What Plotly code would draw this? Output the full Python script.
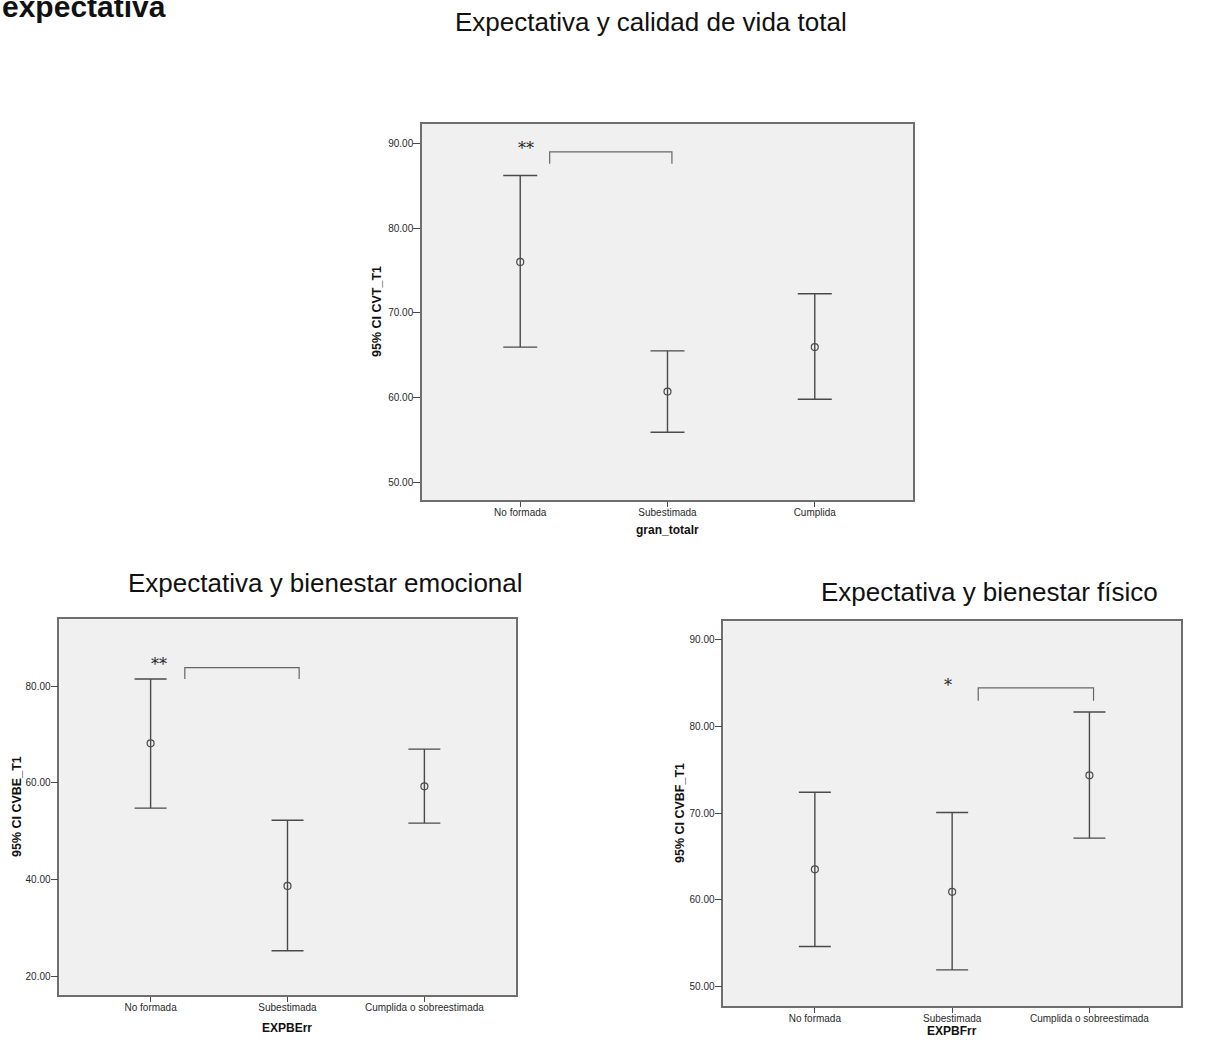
import plotly.graph_objects as go

# ---------------- data ----------------
cats_total = ["No formada", "Subestimada", "Cumplida"]
cvt_mean = [76.0, 60.7, 65.95]
cvt_upper = [86.2, 65.5, 72.25]
cvt_lower = [65.95, 55.9, 59.8]

cats_be = ["No formada", "Subestimada", "Cumplida o sobreestimada"]
cvbe_mean = [68.2, 38.7, 59.3]
cvbe_upper = [81.5, 52.3, 67.0]
cvbe_lower = [54.8, 25.3, 51.7]

cats_bf = ["No formada", "Subestimada", "Cumplida o sobreestimada"]
cvbf_mean = [63.5, 60.9, 74.35]
cvbf_upper = [72.4, 70.05, 81.65]
cvbf_lower = [54.6, 51.9, 67.1]

yticks_total = [50, 60, 70, 80, 90]
yticks_be = [20, 40, 60, 80]
yticks_bf = [50, 60, 70, 80, 90]

# significance brackets: [x_start, x_end], [y_top, y_end], label, label position
br_total_x = [0.20, 1.03]; br_total_y = [89.0, 87.6]; sig_total = "**"; sig_total_pos = [0.04, 89.4]
br_be_x = [0.25, 1.085]; br_be_y = [83.85, 81.5]; sig_be = "**"; sig_be_pos = [0.06, 84.6]
br_bf_x = [1.19, 2.03]; br_bf_y = [84.45, 82.95]; sig_bf = "*"; sig_bf_pos = [0.97, 84.7]

# ---------------- figure ----------------
W, H = 1230, 1048
fig = go.Figure()

FONT = "Liberation Sans, Arial, sans-serif"
LINE = "#4a4a4a"

panels = [
    dict(ax="", cats=cats_total, m=cvt_mean, u=cvt_upper, l=cvt_lower,
         dom_x=[422 / W, 913 / W], dom_y=[1 - 500 / H, 1 - 124 / H],
         yr=[47.9, 92.28], yt=yticks_total, brx=br_total_x, bry=br_total_y,
         sig=sig_total, sigpos=sig_total_pos, cap=17),
    dict(ax="2", cats=cats_be, m=cvbe_mean, u=cvbe_upper, l=cvbe_lower,
         dom_x=[59.3 / W, 515.7 / W], dom_y=[1 - 995 / H, 1 - 619.3 / H],
         yr=[16.13, 93.86], yt=yticks_be, brx=br_be_x, bry=br_be_y,
         sig=sig_be, sigpos=sig_be_pos, cap=16),
    dict(ax="3", cats=cats_bf, m=cvbf_mean, u=cvbf_upper, l=cvbf_lower,
         dom_x=[723.3 / W, 1181 / W], dom_y=[1 - 1006 / H, 1 - 620.7 / H],
         yr=[47.73, 92.19], yt=yticks_bf, brx=br_bf_x, bry=br_bf_y,
         sig=sig_bf, sigpos=sig_bf_pos, cap=16),
]

annotations = []
for p in panels:
    xs = list(range(len(p["cats"])))
    err_plus = [u - m for u, m in zip(p["u"], p["m"])]
    err_minus = [m - l for m, l in zip(p["m"], p["l"])]
    xa = "x" + p["ax"]
    ya = "y" + p["ax"]
    fig.add_trace(go.Scatter(
        x=xs, y=p["m"], mode="markers", xaxis=xa, yaxis=ya,
        marker=dict(symbol="circle-open", size=7, color=LINE, line=dict(width=1.2)),
        error_y=dict(type="data", symmetric=False, array=err_plus, arrayminus=err_minus,
                     color=LINE, thickness=1.4, width=p["cap"]),
        showlegend=False, hoverinfo="skip"))
    # bracket
    bx = [p["brx"][0], p["brx"][0], p["brx"][1], p["brx"][1]]
    by = [p["bry"][1], p["bry"][0], p["bry"][0], p["bry"][1]]
    fig.add_trace(go.Scatter(x=bx, y=by, mode="lines", xaxis=xa, yaxis=ya,
                             line=dict(color="#666666", width=1.2),
                             showlegend=False, hoverinfo="skip"))
    annotations.append(dict(x=p["sigpos"][0], y=p["sigpos"][1], xref=xa, yref=ya,
                            text=p["sig"], showarrow=False,
                            font=dict(family="DejaVu Serif, serif", size=16, color="#222")))
    xkey = "xaxis" + p["ax"]
    ykey = "yaxis" + p["ax"]
    fig.update_layout(**{
        xkey: dict(domain=p["dom_x"], anchor=ya, range=[-0.667, 2.667],
                   tickvals=xs, ticktext=p["cats"], ticks="outside", ticklen=5,
                   ticklabelstandoff=-3,
                   tickcolor=LINE, tickwidth=1.2, showline=True, linecolor="#6e6e6e",
                   linewidth=1.5, mirror=True, showgrid=False, zeroline=False,
                   tickfont=dict(family=FONT, size=10, color="#2a2a2a")),
        ykey: dict(domain=p["dom_y"], anchor=xa, range=p["yr"],
                   tickvals=p["yt"], ticktext=[f"{v:.2f}" for v in p["yt"]],
                   ticks="outside", ticklen=7, tickcolor=LINE, tickwidth=1.2,
                   ticklabelstandoff=-2,
                   showline=True, linecolor="#6e6e6e", linewidth=1.5, mirror=True,
                   showgrid=False, zeroline=False,
                   tickfont=dict(family=FONT, size=10, color="#2a2a2a")),
    })

# titles
def txt(x, y, text, size, bold=False, angle=0, xanchor="center", yanchor="middle"):
    annotations.append(dict(x=x / W, y=1 - y / H, xref="paper", yref="paper",
                            text=f"<b>{text}</b>" if bold else text, showarrow=False,
                            textangle=angle, xanchor=xanchor, yanchor=yanchor,
                            font=dict(family=FONT, size=size, color="#111")))

txt(0, 7, "expectativa", 30, bold=True, xanchor="left")
txt(651, 22, "Expectativa y calidad de vida total", 26)
txt(325, 583, "Expectativa y bienestar emocional", 26)
txt(989, 592, "Expectativa y bienestar físico", 26)

txt(667, 530, "gran_totalr", 12, bold=True)
txt(287, 1028, "EXPBErr", 12, bold=True)
txt(952, 1031, "EXPBFrr", 12, bold=True)

txt(377, 312, "95% CI CVT_T1", 12.5, bold=True, angle=-90)
txt(17, 807, "95% CI CVBE_T1", 12.5, bold=True, angle=-90)
txt(680, 813, "95% CI CVBF_T1", 12.5, bold=True, angle=-90)

fig.update_layout(width=W, height=H, margin=dict(l=0, r=0, t=0, b=0),
                  paper_bgcolor="white", plot_bgcolor="#f0f0f0",
                  annotations=annotations, showlegend=False)

fig.write_html("out.html")
